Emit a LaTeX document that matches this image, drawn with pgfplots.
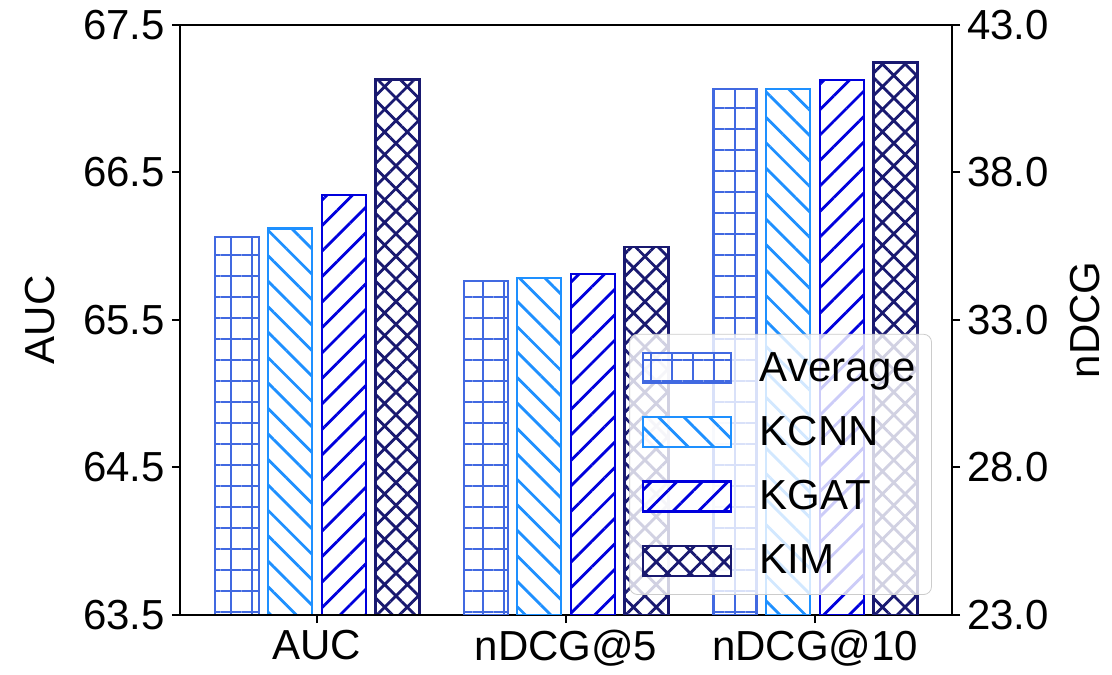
\documentclass[border=0pt]{standalone}
\usepackage{pgfplots}
\pgfplotsset{compat=1.18}
\usepackage{fontspec}
\setmainfont{Liberation Sans}
\usetikzlibrary{patterns.meta}
\definecolor{cavg}{HTML}{4169E1}
\definecolor{ckcnn}{HTML}{1E90FF}
\definecolor{ckgat}{HTML}{0000DD}
\definecolor{ckim}{HTML}{191970}
\newcommand\bigf{\fontsize{21bp}{25bp}\selectfont}
\pgfplotsset{
  common/.style={
    width=386bp, height=295bp, scale only axis,
    xmin=-0.55, xmax=2.55,
    ybar, bar width=22bp,
    axis line style={line width=1bp},
    tick style={line width=1bp, black},
    major tick length=4bp,
    tick align=outside,
    ticklabel style={font=\bigf},
    label style={font=\bigf},
    /pgf/number format/fixed,
    /pgf/number format/fixed zerofill,
    /pgf/number format/precision=1,
    /pgf/number format/assume math mode=true,
  },
  mylegend/.style={legend image code/.code={\draw[##1, sharp corners, fill opacity=1] (0bp,-7.5bp) rectangle (44bp,7.5bp);}},
  avg/.style={mylegend, draw=cavg, line width=1.1bp, preaction={fill=white}, pattern={Hatch[angle=0,distance=10.5bp,line width=1.4bp]}, pattern color=cavg, bar shift=-40bp},
  kcnn/.style={mylegend, draw=ckcnn, line width=1.1bp, preaction={fill=white}, pattern={Lines[angle=-45,distance=9bp,line width=1.4bp]}, pattern color=ckcnn, bar shift=-13.5bp},
  kgat/.style={mylegend, draw=ckgat, line width=1.1bp, preaction={fill=white}, pattern={Lines[angle=45,distance=9bp,line width=1.4bp]}, pattern color=ckgat, bar shift=13.5bp},
  kim/.style={mylegend, draw=ckim, line width=1.1bp, preaction={fill=white}, pattern={Hatch[angle=45,distance=8bp,line width=1.4bp]}, pattern color=ckim, bar shift=40.25bp},
}
\begin{document}
\begin{tikzpicture}
\begin{axis}[common, name=ax1,
  ymin=63.5, ymax=67.5,
  ytick={63.5,64.5,65.5,66.5,67.5},
  ytick pos=left,
  xtick={0,1,2}, xticklabels={AUC,nDCG@5,nDCG@10},
  xtick pos=bottom,
  ylabel={AUC},
  ylabel style={at={(axis description cs:-0.181,0.5)}, anchor=center},
]
\addplot[avg] coordinates {(0,66.06)};
\addplot[kcnn] coordinates {(0,66.12)};
\addplot[kgat] coordinates {(0,66.35)};
\addplot[kim] coordinates {(0,67.13)};
\end{axis}
\begin{axis}[common,
  ymin=23, ymax=43,
  ytick={23,28,33,38,43},
  ytick pos=right, yticklabel pos=right,
  xtick=\empty,
  ylabel={nDCG},
  ylabel style={at={(axis description cs:1.172,0.5)}, anchor=center},
  legend cell align=left,
  legend style={at={(0.974,0.034)}, anchor=south east, font=\bigf,
    draw=black!20, fill=white, fill opacity=0.8, text opacity=1, draw opacity=1,
    rounded corners=4bp, row sep=12bp, inner xsep=6bp, inner ysep=7bp,
    /tikz/every odd column/.append style={column sep=12bp}},
]
\addplot[avg] coordinates {(1,34.32) (2,40.82)};
\addplot[kcnn] coordinates {(1,34.42) (2,40.84)};
\addplot[kgat] coordinates {(1,34.56) (2,41.14)};
\addplot[kim] coordinates {(1,35.47) (2,41.73)};
\legend{Average,KCNN,KGAT,KIM}
\end{axis}
\pgfresetboundingbox
\path[use as bounding box] ([shift={(-90bp,-30bp)}]ax1.south west) rectangle ([shift={(80bp,12.5bp)}]ax1.north east);
\end{tikzpicture}
\end{document}
